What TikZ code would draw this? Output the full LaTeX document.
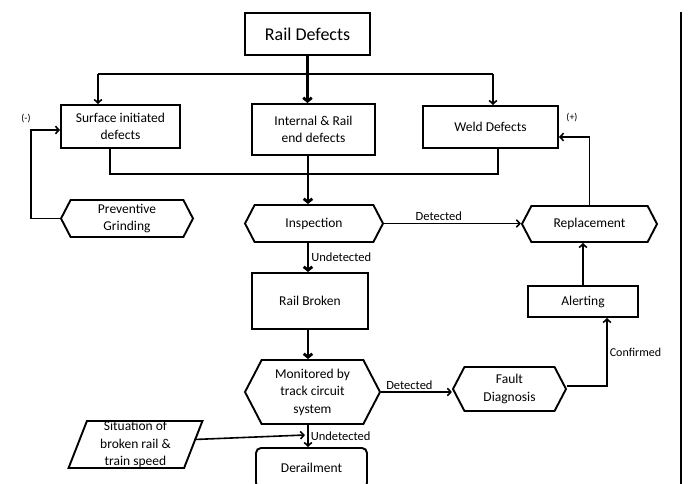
\documentclass[tikz,border=0pt]{standalone}
\usepackage{fontspec}
\setmainfont{Carlito}
\usetikzlibrary{arrows.meta,shapes.geometric,shapes.symbols,calc}
\begin{document}
\begin{tikzpicture}[x=1pt,y=-1pt,
  txt/.style={font=\fontsize{13.5}{17.5}\selectfont},
  box/.style={draw,line width=1.9pt,rectangle,align=center,inner sep=0pt,txt},
  hexa/.style={draw,line width=1.9pt,signal,signal to=west and east,signal pointer angle=125,align=center,inner sep=0pt,txt},
  para/.style={draw,line width=1.9pt,trapezium,trapezium left angle=74,trapezium right angle=106,trapezium stretches=true,align=center,inner sep=0pt,txt},
  line/.style={line width=1.6pt},
  conn/.style={line width=1.6pt,-{Straight Barb[length=3.5pt,width=7.5pt]}},
  thickconn/.style={line width=2.8pt,-{Straight Barb[length=3.5pt,width=8.5pt]}},
  lab/.style={font=\fontsize{12.5}{14}\selectfont,inner sep=2pt},
  sign/.style={font=\fontsize{10}{12}\selectfont,inner sep=0pt}
]
\useasboundingbox (0,0) rectangle (688,484);
\clip (0,0) rectangle (688,484);
\fill[white] (0,0) rectangle (688,484);

% nodes
\node[box,minimum width=125,minimum height=42,font=\fontsize{18}{20}\selectfont] (rd) at (307.5,34) {Rail Defects};
\node[box,minimum width=119,minimum height=43] (sid) at (120.5,126.5) {Surface initiated\\defects};
\node[box,minimum width=123,minimum height=51] (ird) at (313.5,129.5) {Internal \& Rail\\end defects};
\node[box,minimum width=135,minimum height=42] (wd) at (490.5,127) {Weld Defects};
\node[hexa,minimum width=132,minimum height=37] (pg) at (127,218.5) {Preventive\\Grinding};
\node[hexa,minimum width=138,minimum height=37] (insp) at (314,223.5) {Inspection};
\node[hexa,minimum width=135,minimum height=36] (rep) at (589.5,224) {Replacement};
\node[box,minimum width=116,minimum height=56] (rb) at (310,301) {Rail Broken};
\node[box,minimum width=110,minimum height=31] (al) at (583,301.5) {Alerting};
\node[hexa,minimum width=135,minimum height=64] (mon) at (312.5,392) {Monitored by\\track circuit\\system};
\node[hexa,minimum width=113,minimum height=44] (fd) at (509.5,389) {Fault\\Diagnosis};
\node[para,minimum width=135,minimum height=47] (sit) at (135.5,444.5) {Situation of\\broken rail \&\\train speed};
\node[box,rounded corners=5pt,minimum width=111,minimum height=40] (der) at (311.5,468) {Derailment};

\node[sign] (minus) at (26,119) {(-)};
\node[sign] (plus) at (572,118) {(+)};

% helper coordinates
\coordinate (cx) at (308,0);
\coordinate (tl) at (98,74);
\coordinate (tr) at (493,74);
\coordinate (bl) at (110,174);
\coordinate (br) at (498,174);
\coordinate (sitend) at (305,435);
\coordinate (bt) at (681,12);
\coordinate (bb) at (681,484);

% connectors
\draw[thickconn] (rd.south) -- (rd.south |- ird.north);
\draw[line] (tl) -- (tr);
\draw[conn] (tl) -- (tl |- sid.north);
\draw[conn] (tr) -- (tr |- wd.north);
\draw[line] (sid.south -| bl) -- (bl) -- (br) -- (wd.south -| br);
\draw[thickconn] (ird.south -| cx) -- (insp.north -| cx);
\draw[conn] (pg.west) -- ++(-29,0) |- ($(sid.west)+(0,3.5)$);
\draw[conn] (insp.east) -- node[lab,pos=0.4,above]{Detected} (insp.east -| rep.west);
\draw[conn] (rep.north) |- ($(wd.east)+(0,10)$);
\draw[thickconn] (insp.south -| cx) -- node[lab,right]{Undetected} (rb.north -| cx);
\draw[thickconn] (rb.south -| cx) -- (mon.north -| cx);
\draw[conn] (mon.east) -- node[lab,pos=0.4,above]{Detected} (mon.east -| fd.west);
\draw[conn] ($(fd.east)+(0,-3)$) -| node[lab,pos=0.75,right,font=\fontsize{12}{14}\selectfont]{Confirmed} ($(al.south)+(24,0)$);
\draw[conn] (al.north) -- (al.north |- rep.south);
\draw[conn] (mon.south -| cx) -- node[lab,right]{Undetected} (der.north -| cx);
\draw[conn] ($(sit.east)+(0,-5)$) -- (sitend);
\draw[line width=2pt] (bt) -- (bb);
\end{tikzpicture}
\end{document}
